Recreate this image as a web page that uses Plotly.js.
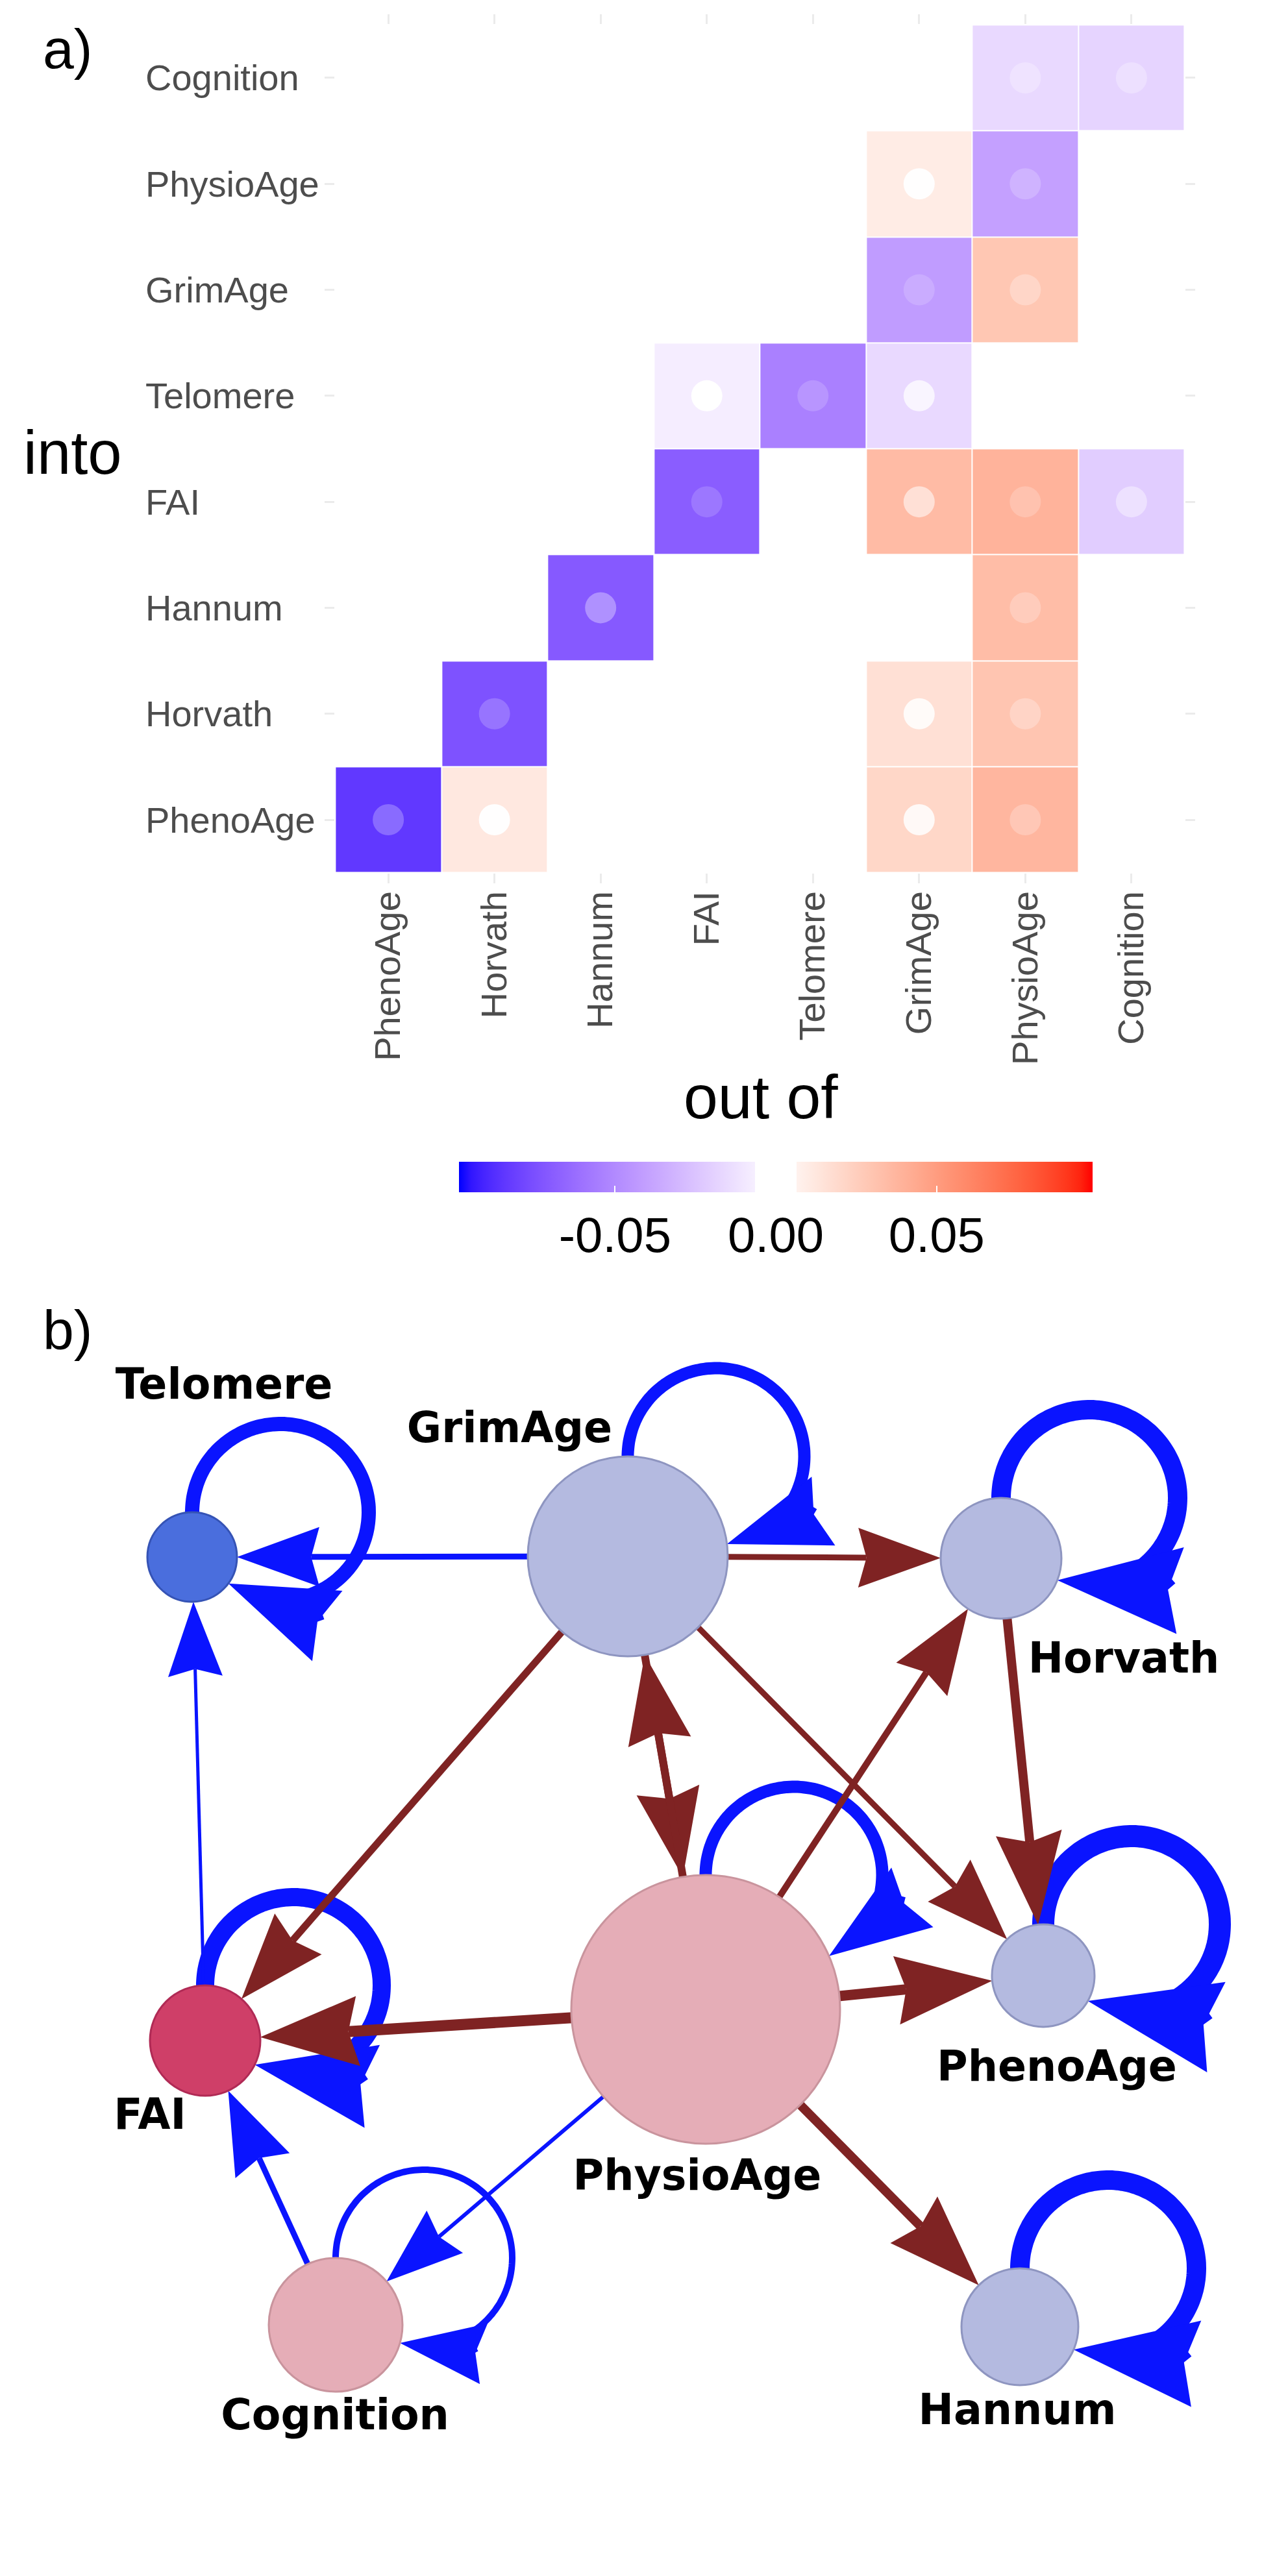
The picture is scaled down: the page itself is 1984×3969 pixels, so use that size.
<!DOCTYPE html>
<html>
<head>
<meta charset="utf-8">
<script src="https://cdn.plot.ly/plotly-3.0.1.min.js"></script>
<style>
  body { margin: 0; background: #fff; }
  #fig { width: 1984px; height: 3969px; }
</style>
</head>
<body>
<div id="fig"></div>
<script>
// ---- data: a) heatmap of effects "out of" (column) "into" (row) ----
var nodes = ['PhenoAge', 'Horvath', 'Hannum', 'FAI', 'Telomere', 'GrimAge', 'PhysioAge', 'Cognition'];

var cellInto  = ['PhenoAge', 'PhenoAge', 'PhenoAge', 'PhenoAge', 'Horvath', 'Horvath', 'Horvath',
                 'Hannum', 'Hannum', 'FAI', 'FAI', 'FAI', 'FAI', 'Telomere', 'Telomere', 'Telomere',
                 'GrimAge', 'GrimAge', 'PhysioAge', 'PhysioAge', 'Cognition', 'Cognition'];
var cellOutOf = ['PhenoAge', 'Horvath', 'GrimAge', 'PhysioAge', 'Horvath', 'GrimAge', 'PhysioAge',
                 'Hannum', 'PhysioAge', 'FAI', 'GrimAge', 'PhysioAge', 'Cognition', 'FAI', 'Telomere', 'GrimAge',
                 'GrimAge', 'PhysioAge', 'GrimAge', 'PhysioAge', 'PhysioAge', 'Cognition'];
var cellValue = [-0.084, 0.012, 0.021, 0.037, -0.074, 0.016, 0.030,
                 -0.071, 0.034, -0.069, 0.035, 0.039, -0.021, -0.0075, -0.054, -0.016,
                 -0.042, 0.029, 0.0098, -0.040, -0.016, -0.018];
var cellDot   = [0.26, 0.95, 0.85, 0.24, 0.20, 0.85, 0.27,
                 0.34, 0.24, 0.16, 0.55, 0.20, 0.40, 1.0, 0.17, 0.72,
                 0.17, 0.28, 0.95, 0.20, 0.27, 0.29];
var zLim = 0.0985;
var cbTicks = [-0.05, 0, 0.05];
var cbLabels = ['-0.05', '0.00', '0.05'];

// ---- data: b) network ----
var netX = [1607, 1542, 1571, 316, 296, 967, 1087, 517];
var netY = [1044, 401, 1585, 1144, 399, 398, 1096, 1582];
var nodeSize = [79, 93, 90, 85, 69, 154, 207, 103];

var edgeFrom   = ['PhenoAge', 'Horvath', 'Hannum', 'FAI', 'Telomere', 'GrimAge', 'PhysioAge', 'Cognition',
                  'GrimAge', 'FAI', 'Cognition', 'PhysioAge',
                  'GrimAge', 'GrimAge', 'GrimAge', 'PhysioAge', 'GrimAge', 'PhysioAge', 'Horvath', 'PhysioAge', 'PhysioAge', 'PhysioAge'];
var edgeTo     = ['PhenoAge', 'Horvath', 'Hannum', 'FAI', 'Telomere', 'GrimAge', 'PhysioAge', 'Cognition',
                  'Telomere', 'Telomere', 'FAI', 'Cognition',
                  'Horvath', 'FAI', 'PhysioAge', 'GrimAge', 'PhenoAge', 'Horvath', 'PhenoAge', 'PhenoAge', 'FAI', 'Hannum'];
var edgeWeight = [34, 30, 30, 28, 22, 19, 19, 10,
                  9, 5, 9, 6,
                  9, 11, 12, 12, 9, 10, 14, 16, 17, 14];
var edgeSign   = [-1, -1, -1, -1, -1, -1, -1, -1,
                  -1, -1, -1, -1,
                  1, 1, 1, 1, 1, 1, 1, 1, 1, 1];

// ---- styles ----
var nodeFill   = ['#B4BAE0', '#B4BAE0', '#B4BAE0', '#CF3F68', '#4A6EDD', '#B4BAE0', '#E5ADB7', '#E5ADB7'];
var nodeStroke = ['#8E95C0', '#8E95C0', '#8E95C0', '#B02A55', '#3553B5', '#8E95C0', '#C9949D', '#C9949D'];
var labelDX = [21, 189, -4, -85, 49, -182, -13, -1];
var labelDY = [146, 160, 134, 120, -260, -192, 262, 145];
var NEG = '#0A14FF', POS = '#7F2323';
var LOOP_R = 136;
var W = 1984, H = 3969;

// colour scale: blue - white - red interpolated in CIELAB (like scale_fill_gradient2)
function toLin(c) { c /= 255; return c <= 0.04045 ? c / 12.92 : Math.pow((c + 0.055) / 1.055, 2.4); }
function toS(c) { c = c <= 0.0031308 ? 12.92 * c : 1.055 * Math.pow(c, 1 / 2.4) - 0.055; return Math.round(Math.max(0, Math.min(1, c)) * 255); }
function rgb2lab(r, g, b) {
  var R = toLin(r), G = toLin(g), B = toLin(b);
  var X = (0.4124 * R + 0.3576 * G + 0.1805 * B) / 0.95047;
  var Y = 0.2126 * R + 0.7152 * G + 0.0722 * B;
  var Z = (0.0193 * R + 0.1192 * G + 0.9505 * B) / 1.08883;
  function f(t) { return t > 0.008856 ? Math.cbrt(t) : 7.787 * t + 16 / 116; }
  var fx = f(X), fy = f(Y), fz = f(Z);
  return [116 * fy - 16, 500 * (fx - fy), 200 * (fy - fz)];
}
function lab2rgb(l) {
  var fy = (l[0] + 16) / 116, fx = fy + l[1] / 500, fz = fy - l[2] / 200;
  function fi(t) { return t > 0.206893 ? t * t * t : (t - 16 / 116) / 7.787; }
  var X = 0.95047 * fi(fx), Y = fi(fy), Z = 1.08883 * fi(fz);
  var R = 3.2406 * X - 1.5372 * Y - 0.4986 * Z;
  var G = -0.9689 * X + 1.8758 * Y + 0.0415 * Z;
  var B = 0.0557 * X - 0.2040 * Y + 1.0570 * Z;
  return 'rgb(' + toS(R) + ',' + toS(G) + ',' + toS(B) + ')';
}
function mix(a, b, t) { return lab2rgb([a[0] + (b[0] - a[0]) * t, a[1] + (b[1] - a[1]) * t, a[2] + (b[2] - a[2]) * t]); }
var labLo = rgb2lab(0, 0, 255), labMid = rgb2lab(255, 255, 255), labHi = rgb2lab(255, 0, 0);
var band = 0.0065 / (2 * zLim);
var colorscale = [];
for (var i = 0; i <= 24; i++) {
  var s = i / 24 * (0.5 - band);
  colorscale.push([s, mix(labLo, labMid, s / 0.5)]);
}
colorscale.push([0.5 - band + 0.0001, 'rgb(255,255,255)']);
colorscale.push([0.5 + band - 0.0001, 'rgb(255,255,255)']);
for (i = 0; i <= 24; i++) {
  var s2 = 0.5 + band + i / 24 * (0.5 - band);
  colorscale.push([s2, mix(labMid, labHi, (s2 - 0.5) / 0.5)]);
}

// heatmap matrix (empty cells are 0 -> white)
var idx = [];
for (i = 0; i < nodes.length; i++) idx.push(i + 1);
var z = nodes.map(function () { return nodes.map(function () { return 0; }); });
var dotX = [], dotY = [], dotCol = [];
for (i = 0; i < cellValue.length; i++) {
  var r = nodes.indexOf(cellInto[i]), c = nodes.indexOf(cellOutOf[i]);
  z[r][c] = cellValue[i];
  dotX.push(c + 1); dotY.push(r + 1);
  dotCol.push('rgba(255,255,255,' + cellDot[i] + ')');
}

var heat = {
  type: 'heatmap', x: idx, y: idx, z: z, xaxis: 'x', yaxis: 'y',
  zmin: -zLim, zmax: zLim, colorscale: colorscale, xgap: 2, ygap: 2,
  hoverinfo: 'skip',
  colorbar: {
    orientation: 'h', x: 1195 / W, xanchor: 'center', y: 1 - 1790 / H, yanchor: 'top',
    len: 976, lenmode: 'pixels', thickness: 47, thicknessmode: 'pixels',
    xpad: 0, ypad: 0, outlinewidth: 0,
    tickvals: cbTicks, ticktext: cbLabels, ticks: 'inside', ticklen: 10, tickwidth: 2, tickcolor: '#ffffff',
    tickfont: { family: 'Liberation Sans', size: 76, color: '#000000' }
  }
};
var dots = {
  type: 'scatter', mode: 'markers', x: dotX, y: dotY, xaxis: 'x', yaxis: 'y',
  marker: { size: 48, color: dotCol, line: { width: 0 } }, hoverinfo: 'skip'
};

// ---- network shapes ----
var shapes = [];
function pth(pts) {
  return pts.map(function (p, k) { return (k ? 'L' : 'M') + p[0].toFixed(1) + ',' + p[1].toFixed(1); }).join(' ');
}
function arrowHead(T, N, L, hw, col) {
  var dx = T[0] - N[0], dy = T[1] - N[1], d = Math.hypot(dx, dy);
  dx /= d; dy /= d;
  var bx = T[0] - L * dx, by = T[1] - L * dy;
  var B1 = [bx - hw * dy, by + hw * dx], B2 = [bx + hw * dy, by - hw * dx];
  shapes.push({ type: 'path', xref: 'x2', yref: 'y2', path: pth([T, B1, N, B2]) + ' Z',
    fillcolor: col, line: { width: 0 } });
}
function loopEdge(n, w, col) {
  var cx = netX[n], cy = netY[n], r = nodeSize[n];
  var C = [cx + LOOP_R, cy - r];
  var dx = C[0] - cx, dy = C[1] - cy, d = Math.hypot(dx, dy);
  var a = (r * r - LOOP_R * LOOP_R + d * d) / (2 * d), h = Math.sqrt(Math.max(0, r * r - a * a));
  var ux = dx / d, uy = dy / d;
  var T = [cx + a * ux - h * uy, cy + a * uy + h * ux];
  var L = 100 + 3 * w, hw = 37 + w, Rn = LOOP_R + 20 + w;
  var ex = T[0] - C[0], ey = T[1] - C[1], e = Math.hypot(ex, ey);
  var b = 0.9 * L;
  var a2 = (Rn * Rn - b * b + e * e) / (2 * e), h2 = Math.sqrt(Math.max(0, Rn * Rn - a2 * a2));
  var vx = ex / e, vy = ey / e;
  var N = [C[0] + a2 * vx + h2 * vy, C[1] + a2 * vy - h2 * vx];
  var t0 = 0.95 * Math.PI, t1 = Math.atan2(N[1] - C[1], N[0] - C[0]);
  while (t1 < t0) t1 += 2 * Math.PI;
  var pts = [];
  for (var t = t0; t < t1; t += 0.03) pts.push([C[0] + LOOP_R * Math.cos(t), C[1] + LOOP_R * Math.sin(t)]);
  pts.push([C[0] + LOOP_R * Math.cos(t1), C[1] + LOOP_R * Math.sin(t1)]);
  pts.push(N);
  shapes.push({ type: 'path', xref: 'x2', yref: 'y2', path: pth(pts), line: { color: col, width: w } });
  arrowHead(T, N, L, hw, col);
}
function straightEdge(f, t, w, col) {
  var sx = netX[f], sy = netY[f], tx = netX[t], ty = netY[t];
  var ux = tx - sx, uy = ty - sy, d = Math.hypot(ux, uy);
  ux /= d; uy /= d;
  var T = [tx - nodeSize[t] * ux, ty - nodeSize[t] * uy];
  var L = 100 + 3 * w, hw = 37 + w;
  var N = [T[0] - 0.9 * L * ux, T[1] - 0.9 * L * uy];
  shapes.push({ type: 'path', xref: 'x2', yref: 'y2', path: pth([[sx, sy], N]), line: { color: col, width: w } });
  arrowHead(T, N, L, hw, col);
}
// loops first, then straight edges, then nodes
for (i = 0; i < edgeFrom.length; i++) {
  if (edgeFrom[i] === edgeTo[i]) loopEdge(nodes.indexOf(edgeFrom[i]), edgeWeight[i], edgeSign[i] < 0 ? NEG : POS);
}
for (i = 0; i < edgeFrom.length; i++) {
  if (edgeFrom[i] !== edgeTo[i]) straightEdge(nodes.indexOf(edgeFrom[i]), nodes.indexOf(edgeTo[i]), edgeWeight[i], edgeSign[i] < 0 ? NEG : POS);
}
for (i = 0; i < nodes.length; i++) {
  shapes.push({ type: 'circle', xref: 'x2', yref: 'y2',
    x0: netX[i] - nodeSize[i], x1: netX[i] + nodeSize[i], y0: netY[i] - nodeSize[i], y1: netY[i] + nodeSize[i],
    fillcolor: nodeFill[i], line: { color: nodeStroke[i], width: 3 } });
}

var netLabels = {
  type: 'scatter', mode: 'text', xaxis: 'x2', yaxis: 'y2',
  x: netX.map(function (v, k) { return v + labelDX[k]; }),
  y: netY.map(function (v, k) { return v + labelDY[k]; }),
  text: nodes, textposition: 'middle center', hoverinfo: 'skip', cliponaxis: false,
  textfont: { family: 'DejaVu Sans', size: 65, color: '#000000', weight: 'bold' }
};

// ---- annotations ----
var annotations = [
  { text: 'a)', xref: 'paper', yref: 'paper', x: 64 / W, y: 1 - 75 / H, xanchor: 'left', yanchor: 'middle',
    showarrow: false, font: { family: 'Liberation Sans', size: 86, color: '#000000' } },
  { text: 'b)', xref: 'paper', yref: 'paper', x: 64 / W, y: 1 - 2049 / H, xanchor: 'left', yanchor: 'middle',
    showarrow: false, font: { family: 'Liberation Sans', size: 86, color: '#000000' } },
  { text: 'into', xref: 'paper', yref: 'paper', x: 34 / W, y: 1 - 697 / H, xanchor: 'left', yanchor: 'middle',
    showarrow: false, font: { family: 'Liberation Sans', size: 94, color: '#000000' } },
  { text: 'out of', xref: 'paper', yref: 'paper', x: 1172 / W, y: 1 - 1690 / H, xanchor: 'center', yanchor: 'middle',
    showarrow: false, font: { family: 'Liberation Sans', size: 95, color: '#000000' } }
];
nodes.forEach(function (n, k) {
  annotations.push({ text: n, xref: 'paper', yref: 'y', x: 222 / W, y: k + 1, xanchor: 'left', yanchor: 'middle',
    showarrow: false, font: { family: 'Liberation Sans', size: 56, color: '#4D4D4D' } });
});

var gridTick = { ticks: 'inside', ticklen: 15, tickwidth: 3, tickcolor: '#EBEBEB', mirror: 'ticks',
  showgrid: false, zeroline: false, showline: false, range: [0.4, 8.6], tickvals: idx, fixedrange: true };

var layout = {
  width: W, height: H, margin: { l: 0, r: 0, t: 0, b: 0 },
  paper_bgcolor: '#ffffff', plot_bgcolor: '#ffffff', showlegend: false,
  font: { family: 'Liberation Sans' },
  xaxis: Object.assign({}, gridTick, { domain: [500 / W, 1841 / W], anchor: 'y', ticktext: nodes, tickangle: -90,
    tickfont: { family: 'Liberation Sans', size: 56, color: '#4D4D4D' } }),
  yaxis: Object.assign({}, gridTick, { domain: [1 - 1361 / H, 1 - 22 / H], anchor: 'x', showticklabels: false }),
  xaxis2: { domain: [0, 1], range: [0, W], anchor: 'y2', visible: false, fixedrange: true },
  yaxis2: { domain: [0, 1969 / H], range: [1969, 0], anchor: 'x2', visible: false, fixedrange: true },
  shapes: shapes,
  annotations: annotations
};

Plotly.newPlot('fig', [heat, dots, netLabels], layout, { staticPlot: true });
</script>
</body>
</html>
